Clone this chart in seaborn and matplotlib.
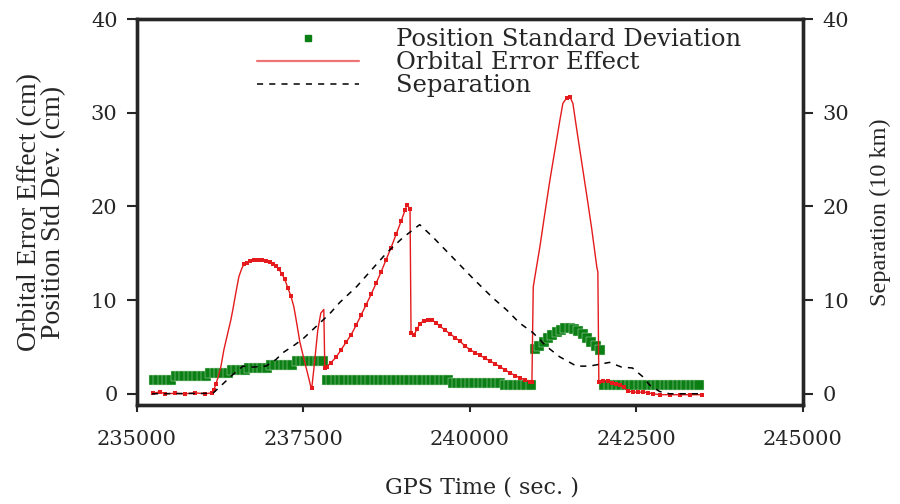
import numpy as np
import pandas as pd
import matplotlib
matplotlib.use("Agg")
import matplotlib.pyplot as plt
from matplotlib.lines import Line2D
import seaborn as sns

# ---- Position standard deviation (cm), one value per 65 s GPS epoch ----
std_epoch_start = 235255
std_epoch_step = 65
std_dev_cm = [
    1.5, 1.5, 1.5, 1.5, 1.5,
    1.85, 1.85, 1.85, 1.85, 1.85, 1.85, 1.85, 1.85,
    2.25, 2.25, 2.25, 2.25, 2.25,
    2.55, 2.55, 2.55, 2.55,
    2.8, 2.8, 2.8, 2.8, 2.8,
    3.1, 3.1, 3.1, 3.1, 3.1, 3.1,
    3.45, 3.45, 3.45, 3.45, 3.45, 3.45, 3.45,
    1.5, 1.5, 1.5, 1.5, 1.5, 1.5, 1.5, 1.5, 1.5, 1.5,
    1.5, 1.5, 1.5, 1.5, 1.5, 1.5, 1.5, 1.5, 1.5, 1.5,
    1.5, 1.5, 1.5, 1.5, 1.5, 1.5, 1.5, 1.5, 1.5,
    1.2, 1.2, 1.2, 1.2, 1.2, 1.2, 1.2, 1.2, 1.2, 1.2, 1.2, 1.2,
    0.95, 0.95, 0.95, 0.95, 0.95, 0.95, 0.95,
    4.8, 5.1, 5.5, 5.9, 6.3, 6.6, 6.85, 7.0, 7.05, 6.95, 6.7, 6.35, 5.95, 5.5, 5.1, 4.7,
    0.95, 0.95, 0.95, 0.95, 0.95, 0.95, 0.95, 0.95, 0.95, 0.95, 0.95, 0.95,
    0.95, 0.95, 0.95, 0.95, 0.95, 0.95, 0.95, 0.95, 0.95, 0.95, 0.95,
]

# ---- Orbital error effect (cm) ----
orbital_time = [
    235240, 235345, 235420, 235570, 235720, 235870, 236020, 236125, 236155, 236185,
    236215, 236260, 236305, 236365, 236410, 236440, 236485, 236530, 236575,
    236605, 236650, 236695, 236755, 236815, 236875, 236935, 236995, 237040, 237085,
    237130, 237175, 237220, 237265, 237310,
    237355, 237385, 237415, 237445, 237490, 237540, 237585, 237610, 237625,
    237655, 237685, 237715, 237760, 237805, 237820,
    237850, 237910, 237990, 238065, 238140, 238215, 238290, 238365, 238440, 238515,
    238590, 238665, 238740, 238815, 238890, 238965, 239025, 239055, 239100,
    239115, 239160, 239205, 239250, 239310, 239370, 239430, 239490, 239550, 239625,
    239700, 239775, 239850, 239925, 240000, 240075, 240150, 240225, 240300, 240375,
    240450, 240525, 240600, 240675, 240750, 240825, 240900, 240930,
    240950, 240975, 241050, 241125, 241200, 241275, 241350, 241395, 241455, 241500,
    241545, 241620, 241695, 241770, 241830, 241905, 241920,
    241935, 241995, 242070, 242130, 242190, 242250, 242310, 242370, 242445, 242525,
    242600, 242675, 242750, 242855, 243005, 243155, 243305, 243485,
]
orbital_cm = [
    0.05, 0.2, 0.0, 0.05, 0.0, 0.1, 0.0, 0.1, 0.45, 1.05,
    1.7, 2.9, 4.7, 6.5, 7.9, 9.0, 10.8, 12.5, 13.4,
    13.8, 14.0, 14.2, 14.3, 14.3, 14.3, 14.2, 14.1, 13.9, 13.65,
    13.3, 12.8, 12.2, 11.3, 10.45,
    9.3, 8.1, 6.8, 5.55, 4.2, 2.8, 1.5, 0.75, 0.65,
    2.6, 4.7, 6.8, 8.6, 9.0, 2.8,
    2.9, 3.3, 3.9, 4.7, 5.5, 6.3, 7.3, 8.4, 9.5, 10.6,
    11.8, 13.0, 14.3, 15.6, 17.0, 18.4, 19.6, 20.2, 19.7,
    6.5, 6.3, 6.9, 7.5, 7.8, 7.9, 7.85, 7.6, 7.2, 6.8,
    6.4, 6.0, 5.6, 5.1, 4.7, 4.4, 4.1, 3.8, 3.5, 3.2,
    2.9, 2.55, 2.25, 1.95, 1.7, 1.5, 1.3, 1.25,
    11.4, 12.5, 15.7, 19.3, 22.8, 26.0, 29.2, 31.0, 31.6, 31.7,
    31.0, 27.4, 23.9, 20.4, 17.5, 13.5, 13.0,
    1.3, 1.4, 1.4, 1.2, 1.0, 0.9, 0.7, 0.3, 0.2, 0.15,
    0.2, 0.1, 0.0, -0.1, -0.1, -0.1, -0.1, -0.1,
]
# 1 where the epoch is also drawn with a square symbol
orbital_marked = [
    1, 1, 1, 1, 1, 1, 1, 1, 1, 1,
    0, 0, 0, 0, 0, 0, 0, 0, 0,
    1, 1, 1, 1, 1, 1, 1, 1, 1, 1,
    1, 1, 1, 1, 1,
    0, 0, 0, 0, 0, 0, 0, 0, 1,
    0, 0, 0, 0, 0, 1,
    1, 1, 1, 1, 1, 1, 1, 1, 1, 1,
    1, 1, 1, 1, 1, 1, 1, 1, 1,
    1, 1, 1, 1, 1, 1, 1, 1, 1, 1,
    1, 1, 1, 1, 1, 1, 1, 1, 1, 1,
    1, 1, 1, 1, 1, 1, 1, 1,
    0, 0, 0, 0, 0, 0, 0, 0, 1, 1,
    0, 0, 0, 0, 0, 0, 0,
    1, 1, 1, 1, 1, 1, 1, 1, 1, 1,
    1, 1, 1, 1, 1, 1, 1, 1,
]

# ---- Baseline separation (10 km) ----
sep_time = [
    235225, 236140, 236305, 236440, 236590, 236740, 236935, 237085, 237205, 237355,
    237490, 237610, 237745, 237895, 238045, 238300, 238525, 238750, 238990, 239245,
    239440, 239740, 240040, 240340, 240550, 240745, 240940, 241150, 241345, 241600,
    241795, 241945, 242095, 242275, 242440, 242590, 242695, 242845, 242995, 243445,
]
sep_10km = [
    0.0, 0.05, 1.15, 2.05, 2.95, 2.85, 2.95, 3.65, 4.45, 5.15,
    5.85, 6.65, 7.55, 8.55, 9.75, 11.45, 13.25, 15.05, 16.65, 18.05,
    16.75, 14.55, 12.35, 10.25, 8.95, 7.55, 6.55, 5.05, 3.95, 2.95,
    2.95, 3.15, 3.35, 2.85, 2.75, 1.85, 0.95, 0.25, 0.0, 0.0,
]

x_ticks = [235000, 237500, 240000, 242500, 245000]
y_ticks = [0, 10, 20, 30, 40]

GREEN = "#0b7f14"
RED = "#e41a1c"

std_df = pd.DataFrame({
    "time": std_epoch_start + std_epoch_step * np.arange(len(std_dev_cm)),
    "value": std_dev_cm,
})
orb_df = pd.DataFrame({"time": orbital_time, "value": orbital_cm, "marked": orbital_marked})
sep_df = pd.DataFrame({"time": sep_time, "value": sep_10km})

sns.set_theme(style="ticks")
plt.rcParams["font.family"] = ["DejaVu Serif"]
plt.rcParams["axes.linewidth"] = 2.4

fig = plt.figure(figsize=(9, 5.04), dpi=100)
ax = fig.add_axes([0.1522, 0.1964, 0.7400, 0.7659])
ax2 = ax.twinx()

sns.scatterplot(data=std_df, x="time", y="value", marker="s", s=48, color=GREEN,
                edgecolor="#d8ecd8", linewidth=0.3, ax=ax, zorder=2, legend=False)
sns.lineplot(data=orb_df, x="time", y="value", sort=False, estimator=None,
             color=RED, linewidth=1.0, ax=ax, zorder=3, legend=False)
sns.scatterplot(data=orb_df[orb_df["marked"] == 1], x="time", y="value", marker="s",
                s=12, color=RED, linewidth=0, ax=ax, zorder=4, legend=False)
sns.lineplot(data=sep_df, x="time", y="value", sort=False, estimator=None,
             color="black", linewidth=1.1, linestyle=(0, (4, 4)), ax=ax2, legend=False)

for a in (ax, ax2):
    a.set_xlim(235000, 245000)
    a.set_ylim(-1.2, 40)
    a.set_yticks(y_ticks)
    for s in a.spines.values():
        s.set_linewidth(2.4)
        s.set_visible(True)
    a.grid(False)

ax.set_xticks(x_ticks)
ax.set_xticklabels([str(v) for v in x_ticks])
ax.tick_params(axis="x", direction="out", length=5, width=1.5, labelsize=15, pad=13)
ax.tick_params(axis="y", direction="out", length=7, width=1.5, labelsize=15, pad=7)
ax2.tick_params(axis="y", direction="out", length=7, width=1.5, labelsize=15, pad=7)

ax.set_xlabel("GPS Time ( sec. )", fontsize=16, labelpad=20, x=0.518)
ax.set_ylabel("Orbital Error Effect (cm)\nPosition Std Dev. (cm)",
              family="Liberation Serif", fontsize=20, linespacing=0.95, labelpad=18)
ax2.set_ylabel("Separation (10 km)", family="Liberation Serif", fontsize=17.5, labelpad=15)

handles = [
    Line2D([], [], linestyle="none", marker="s", markersize=5, color=GREEN),
    Line2D([], [], color=RED, alpha=0.6, linewidth=1.6),
    Line2D([], [], color="black", linewidth=1.1, linestyle=(0, (4, 4))),
]
labels = ["Position Standard Deviation", "Orbital Error Effect", "Separation"]
ax2.legend(handles, labels, loc="upper left", bbox_to_anchor=(0.177, 0.982),
           frameon=False, fontsize=17.5, handlelength=4.2, handletextpad=1.5,
           labelspacing=0.0, borderpad=0.1, borderaxespad=0.0)

fig.savefig("out.png", dpi=100)
